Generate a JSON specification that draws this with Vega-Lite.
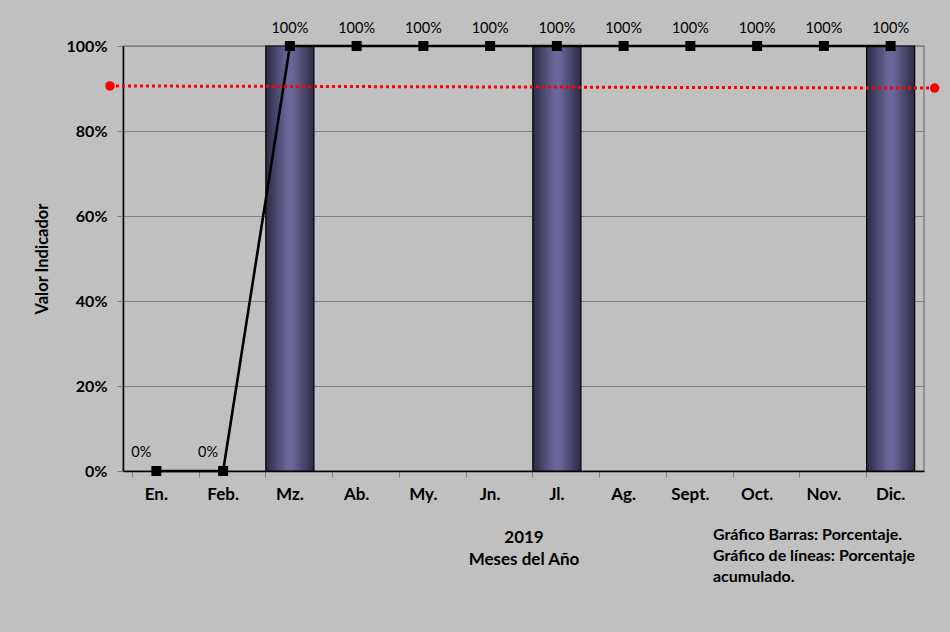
{
  "$schema": "https://vega.github.io/schema/vega-lite/v6.json",
  "autosize": "none",
  "width": 801,
  "height": 425,
  "padding": {"left": 123, "top": 46, "right": 26, "bottom": 161},
  "background": "#c0c0c0",
  "config": {
    "font": "Lato",
    "view": {"fill": "#c0c0c0", "stroke": "#808080", "strokeWidth": 1.5},
    "axis": {"labelFont": "Lato", "titleFont": "Lato", "labelColor": "#000000", "titleColor": "#000000"}
  },
  "title": {
    "text": ["Gráfico Barras: Porcentaje.", "Gráfico de líneas: Porcentaje", "acumulado."],
    "orient": "bottom",
    "anchor": "start",
    "align": "left",
    "frame": "group",
    "dx": 590,
    "dy": -44,
    "fontSize": 16,
    "fontWeight": "bold",
    "lineHeight": 21,
    "color": "#000000",
    "font": "Lato"
  },
  "datasets": {
    "meses": [
      {"mes": "En.", "barra": 0, "acumulado": 0, "etiqueta": "0%"},
      {"mes": "Feb.", "barra": 0, "acumulado": 0, "etiqueta": "0%"},
      {"mes": "Mz.", "barra": 1, "acumulado": 1, "etiqueta": "100%"},
      {"mes": "Ab.", "barra": 0, "acumulado": 1, "etiqueta": "100%"},
      {"mes": "My.", "barra": 0, "acumulado": 1, "etiqueta": "100%"},
      {"mes": "Jn.", "barra": 0, "acumulado": 1, "etiqueta": "100%"},
      {"mes": "Jl.", "barra": 1, "acumulado": 1, "etiqueta": "100%"},
      {"mes": "Ag.", "barra": 0, "acumulado": 1, "etiqueta": "100%"},
      {"mes": "Sept.", "barra": 0, "acumulado": 1, "etiqueta": "100%"},
      {"mes": "Oct.", "barra": 0, "acumulado": 1, "etiqueta": "100%"},
      {"mes": "Nov.", "barra": 0, "acumulado": 1, "etiqueta": "100%"},
      {"mes": "Dic.", "barra": 1, "acumulado": 1, "etiqueta": "100%"}
    ],
    "meta": [
      {"pos": -0.195, "valor": 0.906},
      {"pos": 12.16, "valor": 0.901}
    ]
  },
  "layer": [
    {
      "data": {"name": "meses"},
      "encoding": {
        "x": {
          "field": "mes", "type": "nominal", "sort": null,
          "scale": {"domain": ["En.", "Feb.", "Mz.", "Ab.", "My.", "Jn.", "Jl.", "Ag.", "Sept.", "Oct.", "Nov.", "Dic."], "paddingInner": 0.28, "paddingOuter": 0.14},
          "axis": {
            "title": ["2019", "Meses del Año"],
            "titleFontSize": 17,
            "titleFontWeight": "bold",
            "titleLineHeight": 22,
            "titlePadding": 27,
            "labelAngle": 0,
            "labelFontSize": 17,
            "labelFontWeight": "bold",
            "labelPadding": 9,
            "bandPosition": 0,
            "tickColor": "#808080",
            "tickSize": 6,
            "domainColor": "#000000",
            "domainWidth": 1.5,
            "grid": false
          }
        },
        "y": {
          "field": "acumulado", "type": "quantitative",
          "scale": {"domain": [0, 1]},
          "axis": {
            "title": "Valor Indicador",
            "titleFontSize": 16.5,
            "titleFontWeight": "bold",
            "titlePadding": 16,
            "format": "%",
            "values": [0, 0.2, 0.4, 0.6, 0.8, 1],
            "labelFontSize": 16,
            "labelFontWeight": "bold",
            "labelPadding": 10,
            "tickColor": "#808080",
            "tickSize": 6,
            "domainColor": "#000000",
            "domainWidth": 1.5,
            "grid": true,
            "gridColor": "#808080",
            "gridWidth": 1.2
          }
        }
      },
      "layer": [
        {
          "transform": [{"filter": "datum.barra > 0"}],
          "mark": {
            "type": "bar",
            "stroke": "#000000",
            "strokeWidth": 1.2,
            "color": {
              "gradient": "linear",
              "x1": 0, "x2": 1, "y1": 0, "y2": 0,
              "stops": [
                {"offset": 0, "color": "#2c2b46"},
                {"offset": 0.45, "color": "#6a6699"},
                {"offset": 0.55, "color": "#6a6699"},
                {"offset": 1, "color": "#2c2b46"}
              ]
            }
          },
          "encoding": {"y": {"field": "barra", "type": "quantitative"}}
        },
        {
          "mark": {"type": "line", "color": "#000000", "strokeWidth": 2.6}
        },
        {
          "mark": {"type": "point", "shape": "square", "filled": true, "color": "#000000", "size": 100, "opacity": 1}
        },
        {
          "transform": [{"filter": "datum.acumulado == 0"}],
          "mark": {"type": "text", "fontSize": 14.5, "color": "#000000", "dx": -15, "dy": -18, "baseline": "middle"},
          "encoding": {"text": {"field": "etiqueta"}}
        },
        {
          "transform": [{"filter": "datum.acumulado > 0"}],
          "mark": {"type": "text", "fontSize": 14.5, "color": "#000000", "dy": -17, "baseline": "middle"},
          "encoding": {"text": {"field": "etiqueta"}}
        }
      ]
    },
    {
      "data": {"name": "meta"},
      "encoding": {
        "x": {"field": "pos", "type": "quantitative", "scale": {"domain": [0, 12], "nice": false, "zero": false}, "axis": null},
        "y": {"field": "valor", "type": "quantitative"}
      },
      "layer": [
        {
          "mark": {"type": "line", "color": "#ff0000", "strokeWidth": 3, "strokeDash": [3, 3], "clip": false}
        },
        {
          "mark": {"type": "circle", "color": "#ff0000", "size": 90, "opacity": 1, "clip": false}
        }
      ]
    }
  ],
  "resolve": {"scale": {"x": "independent"}}
}
